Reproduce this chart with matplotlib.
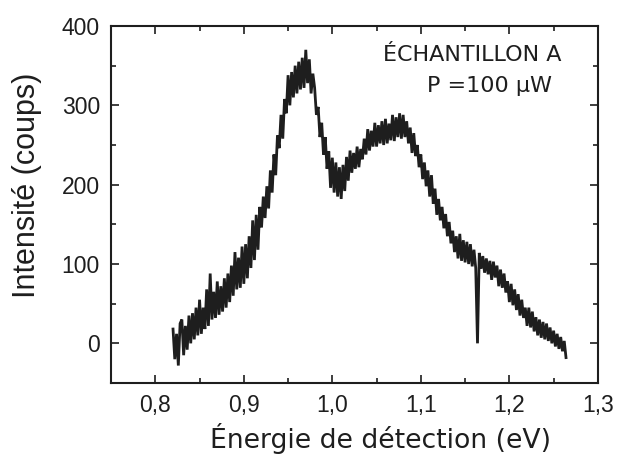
import matplotlib
matplotlib.use("Agg")
import matplotlib.pyplot as plt
from matplotlib.ticker import MultipleLocator, FuncFormatter
import numpy as np

# spectrum, one value every 2 meV from 0.820 to 1.264 eV
E_START, E_STOP = 0.820, 1.264
intensity = [
    18, -20, 12, -28, 25,      # 0.82
    30, -15, 22, -8, 35,       # 0.83
    0, 38, 5, 45, 10,          # 0.84
    55, 12, 45, 18, 68,        # 0.85
    22, 88, 30, 65, 32,        # 0.86
    78, 36, 72, 40, 82,        # 0.87
    45, 88, 52, 98, 60,        # 0.88
    115, 68, 108, 70, 122,     # 0.89
    75, 125, 82, 135, 95,      # 0.90
    155, 105, 162, 118, 172,   # 0.91
    146, 185, 158, 198, 170,   # 0.92
    218, 190, 238, 212, 262,   # 0.93
    246, 288, 258, 308, 290,   # 0.94
    338, 300, 342, 310, 350,   # 0.95
    315, 355, 320, 360, 322,   # 0.96
    370, 328, 358, 315, 340,   # 0.97
    322, 288, 298, 260, 278,   # 0.98
    238, 260, 220, 242, 196,   # 0.99
    234, 190, 228, 185, 222,   # 1.00
    182, 225, 192, 235, 205,   # 1.01
    243, 215, 240, 220, 248,   # 1.02
    222, 245, 232, 258, 238,   # 1.03
    270, 243, 268, 248, 278,   # 1.04
    248, 275, 252, 280, 250,   # 1.05
    283, 252, 277, 256, 288,   # 1.06
    255, 285, 260, 290, 258,   # 1.07
    288, 260, 280, 252, 272,   # 1.08
    240, 265, 236, 250, 222,   # 1.09
    238, 207, 228, 198, 218,   # 1.10
    185, 212, 176, 195, 162,   # 1.11
    182, 155, 172, 145, 163,   # 1.12
    135, 153, 126, 142, 115,   # 1.13
    135, 107, 138, 104, 130,   # 1.14
    102, 128, 100, 125, 97,    # 1.15
    118, 95, 0, 114, 94,       # 1.16  (dead pixel at 1.164)
    110, 89, 107, 87, 104,     # 1.17
    80, 103, 83, 98, 72,       # 1.18
    93, 70, 88, 64, 78,        # 1.19
    52, 75, 48, 68, 42,        # 1.20
    62, 35, 55, 32, 45,        # 1.21
    22, 45, 20, 40, 15,        # 1.22
    33, 10, 30, 7, 27,         # 1.23
    5, 25, 3, 20, 0,           # 1.24
    16, -4, 12, -7, 8,         # 1.25
    -10, 3, -18,               # 1.26
]
energy = np.linspace(E_START, E_STOP, len(intensity))

sample_label = "ÉCHANTILLON A"
power_label = "P =100 µW"

INK = "#1e1e1e"
plt.rcParams["font.family"] = ["Liberation Sans", "DejaVu Sans"]

fig = plt.figure(figsize=(6.17, 4.54), dpi=100)
ax = fig.add_axes([0.180, 0.1564, 0.789, 0.7863])

ax.plot(energy, intensity, color=INK, linewidth=2.0, solid_joinstyle="miter")

ax.set_xlim(0.75, 1.3)
ax.set_ylim(-50, 400)
ax.xaxis.set_major_locator(MultipleLocator(0.1))
ax.xaxis.set_minor_locator(MultipleLocator(0.05))
ax.yaxis.set_major_locator(MultipleLocator(100))
ax.yaxis.set_minor_locator(MultipleLocator(50))
ax.xaxis.set_major_formatter(FuncFormatter(lambda v, p: f"{v:.1f}".replace(".", ",")))

ax.tick_params(which="both", direction="in", top=True, right=True,
               width=1.2, colors=INK, labelsize=16.5, pad=8)
ax.tick_params(which="major", length=6)
ax.tick_params(which="minor", length=3.5)
for s in ax.spines.values():
    s.set_linewidth(1.5)
    s.set_color(INK)

ax.set_ylabel("Intensité (coups)", fontsize=22, color=INK)
ax.yaxis.set_label_coords(-0.142, 0.555)
ax.set_xlabel("Énergie de détection (eV)", fontsize=19.2, family="DejaVu Sans", color=INK)
ax.xaxis.set_label_coords(0.554, -0.112)

ax.text(1.057, 356, sample_label, fontsize=16, family="DejaVu Sans",
        color=INK, va="baseline")
ax.text(1.107, 317, power_label, fontsize=16, family="DejaVu Sans",
        color=INK, va="baseline")

fig.savefig("out.png", dpi=100)
